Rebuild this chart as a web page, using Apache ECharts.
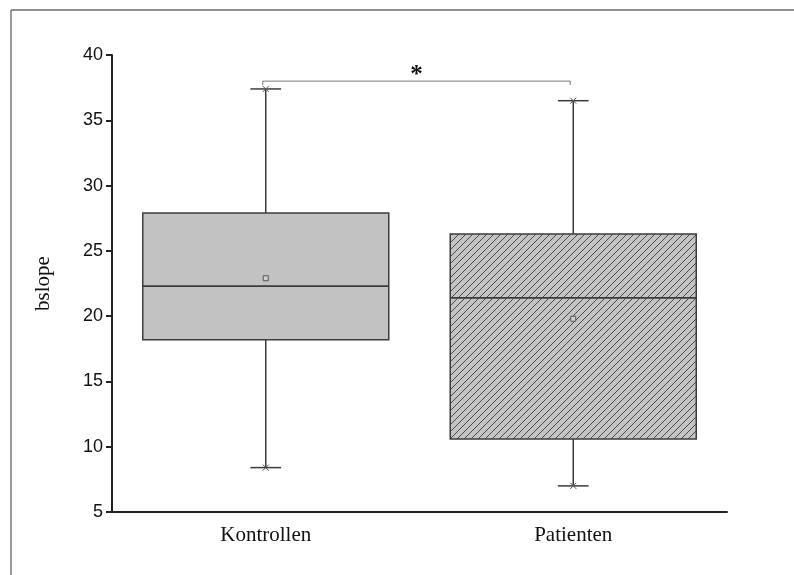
<!DOCTYPE html>
<html>
<head>
<meta charset="utf-8">
<script src="https://cdn.jsdelivr.net/npm/echarts@6/dist/echarts.min.js"></script>
<style>
  html, body { margin: 0; padding: 0; background: #fff; }
  #chart { width: 794px; height: 575px; }
</style>
</head>
<body>
<div id="chart"></div>
<script>
// Groups and their box-plot statistics (bslope)
var categories = ['Kontrollen', 'Patienten'];
var whiskerLow = [8.4, 7.0];
var q1 = [18.2, 10.6];
var median = [22.3, 21.4];
var q3 = [27.9, 26.3];
var whiskerHigh = [37.4, 36.5];
var means = [22.9, 19.8];
// Significance bracket between the two groups
var sigLevel = 38;
var sigLabel = '*';

// Diagonal hatch tile for the second box
function hatchPattern() {
  var s = 7;
  var c = document.createElement('canvas');
  c.width = s; c.height = s;
  var g = c.getContext('2d');
  g.fillStyle = '#c4c4c4';
  g.fillRect(0, 0, s, s);
  g.strokeStyle = '#4a4a4a';
  g.lineWidth = 1;
  g.beginPath();
  g.moveTo(-1, s + 1); g.lineTo(s + 1, -1);
  g.moveTo(-1, 1); g.lineTo(1, -1);
  g.moveTo(s - 1, s + 1); g.lineTo(s + 1, s - 1);
  g.stroke();
  return c;
}
var hatch = hatchPattern();

var boxData = categories.map(function (c, i) {
  return [i, whiskerLow[i], q1[i], median[i], q3[i], whiskerHigh[i], means[i]];
});

function renderBox(params, api) {
  var i = api.value(0);
  var band = api.size([1, 0])[0];
  var bw = band * 0.8;
  var cw = band * 0.1;
  var pLow = api.coord([i, api.value(1)]);
  var pQ1 = api.coord([i, api.value(2)]);
  var pMed = api.coord([i, api.value(3)]);
  var pQ3 = api.coord([i, api.value(4)]);
  var pHigh = api.coord([i, api.value(5)]);
  var pMean = api.coord([i, api.value(6)]);
  var x = pQ1[0];
  var lineStyle = { stroke: '#3c3c3c', lineWidth: 1.5, fill: null };
  var fill = i === 0 ? '#c2c2c2' : { image: hatch, repeat: 'repeat' };
  // small "x" marker drawn at each whisker end
  var cross = function (cx, cy, dir) {
    var r = 3;
    return {
      type: 'polyline',
      shape: { points: [[cx - r, cy - r * dir], [cx + r, cy + r * dir]] },
      style: { stroke: '#555', lineWidth: 1 }
    };
  };
  return {
    type: 'group',
    children: [
      { type: 'line', shape: { x1: x, y1: pHigh[1], x2: x, y2: pQ3[1] }, style: lineStyle },
      { type: 'line', shape: { x1: x, y1: pQ1[1], x2: x, y2: pLow[1] }, style: lineStyle },
      { type: 'line', shape: { x1: x - cw / 2, y1: pHigh[1], x2: x + cw / 2, y2: pHigh[1] }, style: lineStyle },
      { type: 'line', shape: { x1: x - cw / 2, y1: pLow[1], x2: x + cw / 2, y2: pLow[1] }, style: lineStyle },
      cross(x, pHigh[1], 1), cross(x, pHigh[1], -1),
      cross(x, pLow[1], 1), cross(x, pLow[1], -1),
      {
        type: 'rect',
        shape: { x: x - bw / 2, y: pQ3[1], width: bw, height: pQ1[1] - pQ3[1] },
        style: { fill: fill, stroke: '#3c3c3c', lineWidth: 1.5 }
      },
      { type: 'line', shape: { x1: x - bw / 2, y1: pMed[1], x2: x + bw / 2, y2: pMed[1] }, style: { stroke: '#3c3c3c', lineWidth: 1.8 } },
      {
        type: 'rect',
        shape: { x: pMean[0] - 2.5, y: pMean[1] - 2.5, width: 5, height: 5 },
        style: { fill: '#d0d0d0', stroke: '#555', lineWidth: 1 }
      }
    ]
  };
}

function renderBracket(params, api) {
  var a = api.coord([0, api.value(0)]);
  var b = api.coord([1, api.value(0)]);
  var x1 = a[0] - 3, x2 = b[0] - 3, y = a[1];
  return {
    type: 'group',
    children: [
      {
        type: 'polyline',
        shape: { points: [[x1, y + 4], [x1, y], [x2, y], [x2, y + 4]] },
        style: { stroke: '#777', lineWidth: 1, fill: null }
      },
      {
        type: 'text',
        x: (x1 + x2) / 2, y: y + 7,
        style: {
          text: sigLabel, fill: '#111',
          font: 'bold 25px "Liberation Serif", serif',
          textAlign: 'center', textVerticalAlign: 'bottom'
        }
      }
    ]
  };
}

var chart = echarts.init(document.getElementById('chart'), null, { renderer: 'canvas' });
chart.setOption({
  animation: false,
  backgroundColor: '#fff',
  grid: { left: 112, right: 67, top: 55, bottom: 63, containLabel: false },
  xAxis: {
    type: 'category',
    data: categories,
    boundaryGap: true,
    axisLine: { lineStyle: { color: '#222', width: 2 } },
    axisTick: { show: false },
    axisLabel: {
      margin: 13, color: '#111',
      fontFamily: '"Liberation Serif", serif', fontSize: 21
    },
    splitLine: { show: false }
  },
  yAxis: {
    type: 'value',
    min: 5, max: 40, interval: 5,
    name: 'bslope',
    nameLocation: 'middle',
    nameGap: 58,
    nameRotate: 90,
    nameTextStyle: { color: '#111', fontFamily: '"Liberation Serif", serif', fontSize: 21 },
    axisLine: { show: true, lineStyle: { color: '#222', width: 2 } },
    axisTick: { show: true, inside: false, length: 6, lineStyle: { color: '#222', width: 2 } },
    axisLabel: {
      margin: 9, color: '#111',
      fontFamily: '"Liberation Sans", Arial, sans-serif', fontSize: 18
    },
    splitLine: { show: false }
  },
  graphic: [
    { type: 'line', shape: { x1: 11, y1: 10, x2: 11, y2: 575 }, style: { stroke: '#9a9a9a', lineWidth: 2 } },
    { type: 'line', shape: { x1: 11, y1: 10, x2: 794, y2: 10 }, style: { stroke: '#6a6a6a', lineWidth: 1.5 } }
  ],
  series: [
    {
      type: 'custom',
      renderItem: renderBox,
      data: boxData,
      encode: { x: 0, y: [1, 2, 3, 4, 5, 6] },
      z: 3
    },
    {
      type: 'custom',
      renderItem: renderBracket,
      data: [[sigLevel]],
      encode: { y: 0 },
      z: 4
    }
  ]
});
</script>
</body>
</html>
